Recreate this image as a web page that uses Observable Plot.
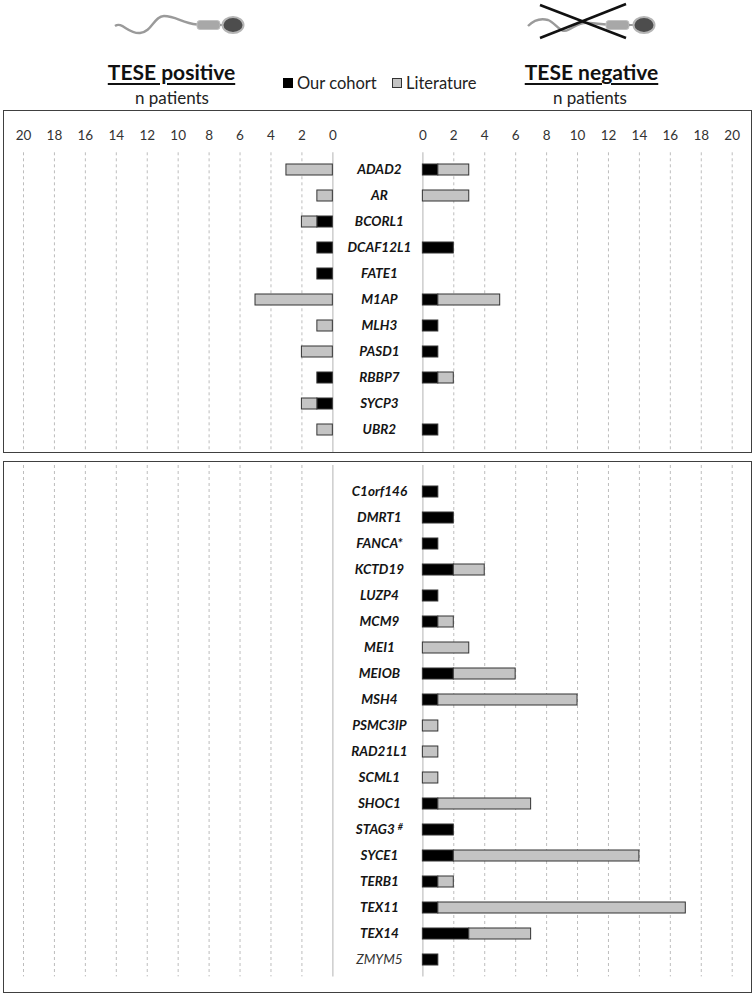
<!DOCTYPE html>
<html><head><meta charset="utf-8">
<script src="https://cdn.jsdelivr.net/npm/d3@7"></script>
<script src="https://cdn.jsdelivr.net/npm/@observablehq/plot@0.6"></script>
<style>
body{margin:0;background:#fff;font-family:Lato,"Open Sans",sans-serif;}
#page{position:relative;width:755px;height:995px;overflow:hidden;background:#fff;}
.abs{position:absolute;}
.title{font-weight:700;font-size:21px;line-height:21px;text-decoration:underline;text-decoration-thickness:2px;text-underline-offset:3px;transform:translateX(-50%);white-space:nowrap;color:#111;}
.sub{font-size:17px;line-height:17px;transform:translateX(-50%);white-space:nowrap;color:#222;}
.leg{font-size:16.5px;line-height:17px;white-space:nowrap;color:#222;display:flex;align-items:center;}
.sw{display:inline-block;width:10px;height:10px;box-sizing:border-box;margin-right:4px;}
.box{border:1.5px solid #404040;box-sizing:border-box;pointer-events:none;}
svg.plot{position:absolute;left:0;}
</style></head><body><div id="page">
<svg class="abs" style="left:0;top:0" width="755" height="60">
  <!-- left sperm -->
  <path d="M115,26 C122,21 128,34 140,33 C152,32 154,16 164,16 C176,16 182,23 197,24.5" fill="none" stroke="#9a9a9a" stroke-width="2.4"/>
  <rect x="197" y="20.5" width="23" height="9" rx="3" fill="#a8a8a8" stroke="#c2c2c2" stroke-width="1"/>
  <line x1="220" y1="25" x2="224" y2="25" stroke="#9a9a9a" stroke-width="2"/>
  <ellipse cx="233" cy="25" rx="10.5" ry="8" fill="#4d4d4d" stroke="#b5b5b5" stroke-width="2"/>
  <!-- right sperm -->
  <path d="M528,26 C534,20 541,18 548,20 C556,23 560,34 568,30 C576,26 580,22 590,23 L606,24.5" fill="none" stroke="#9a9a9a" stroke-width="2.4"/>
  <rect x="606" y="20.5" width="23" height="9" rx="3" fill="#a8a8a8" stroke="#c2c2c2" stroke-width="1"/>
  <line x1="629" y1="25" x2="634" y2="25" stroke="#9a9a9a" stroke-width="2"/>
  <ellipse cx="644" cy="25" rx="10.5" ry="8" fill="#4d4d4d" stroke="#b5b5b5" stroke-width="2"/>
  <line x1="540" y1="5" x2="626" y2="38" stroke="#111" stroke-width="2.5"/>
  <line x1="626" y1="4" x2="540" y2="38" stroke="#111" stroke-width="2.5"/>
</svg>
<div class="abs title" style="left:171.5px;top:61px">TESE positive</div>
<div class="abs sub" style="left:172px;top:88.5px">n patients</div>
<div class="abs title" style="left:591.5px;top:61px">TESE negative</div>
<div class="abs sub" style="left:590px;top:88.5px">n patients</div>
<div class="abs leg" style="left:283px;top:74.5px"><span class="sw" style="background:#000"></span>Our cohort</div>
<div class="abs leg" style="left:392px;top:74.5px"><span class="sw" style="background:#c4c4c4;border:1px solid #333"></span>Literature</div>
<div id="top" class="abs" style="left:0;top:111px;width:755px;height:341px"></div>
<div id="bottom" class="abs" style="left:0;top:462px;width:755px;height:530px"></div>
<div class="abs box" style="left:3px;top:110px;width:749px;height:343px"></div>
<div class="abs box" style="left:3px;top:461px;width:749px;height:532px"></div>
</div>
<script>
// ---- data ----
const sources = ["Our cohort", "Literature"];
const tickValues = [0, 2, 4, 6, 8, 10, 12, 14, 16, 18, 20];

const topGenes = ["ADAD2", "AR", "BCORL1", "DCAF12L1", "FATE1", "M1AP", "MLH3", "PASD1", "RBBP7", "SYCP3", "UBR2"];
const topPositiveCohort     = [0, 0, 1, 1, 1, 0, 0, 0, 1, 1, 0];
const topPositiveLiterature = [3, 1, 1, 0, 0, 5, 1, 2, 0, 1, 1];
const topNegativeCohort     = [1, 0, 0, 2, 0, 1, 1, 1, 1, 0, 1];
const topNegativeLiterature = [2, 3, 0, 0, 0, 4, 0, 0, 1, 0, 0];

const bottomGenes = ["C1orf146", "DMRT1", "FANCA*", "KCTD19", "LUZP4", "MCM9", "MEI1", "MEIOB", "MSH4", "PSMC3IP",
  "RAD21L1", "SCML1", "SHOC1", "STAG3 #", "SYCE1", "TERB1", "TEX11", "TEX14", "ZMYM5"];
const bottomNegativeCohort     = [1, 2, 1, 2, 1, 1, 0, 2, 1, 0, 0, 0, 1, 2, 2, 1, 1, 3, 1];
const bottomNegativeLiterature = [0, 0, 0, 2, 0, 1, 3, 4, 9, 1, 1, 1, 6, 0, 12, 1, 16, 4, 0];

const plainGenes = ["ZMYM5"];

// ---- layout helpers ----
const GAP = 5.82; // units of empty space between the two zero lines (gene label column)
const xOf = (side, v) => side === "pos" ? -GAP - v : v;

function segments(genes, cohort, literature, side) {
  const out = [];
  genes.forEach((g, i) => {
    const c = cohort[i], l = literature[i];
    if (c > 0) out.push({gene: g, side, src: sources[0], a: 0, b: c});
    if (l > 0) out.push({gene: g, side, src: sources[1], a: c, b: c + l});
  });
  return out;
}

const topRows = segments(topGenes, topPositiveCohort, topPositiveLiterature, "pos")
  .concat(segments(topGenes, topNegativeCohort, topNegativeLiterature, "neg"));
const bottomRows = segments(bottomGenes, bottomNegativeCohort, bottomNegativeLiterature, "neg");

const gridX = tickValues.filter(v => v > 0).flatMap(v => [xOf("pos", v), xOf("neg", v)]);
const zeroX = [xOf("pos", 0), xOf("neg", 0)];

function panel(genes, rows, o) {
  const labelX = -GAP / 2 + 0.1;
  const marks = [
    Plot.ruleX(gridX, {stroke: "#bdbdbd", strokeWidth: 1, strokeDasharray: "3,3", insetTop: o.gt, insetBottom: o.gb}),
    Plot.ruleX(zeroX, {stroke: "#d0d0d0", strokeWidth: 1.6, insetTop: o.gt, insetBottom: o.gb}),
    Plot.barX(rows, {
      x1: d => xOf(d.side, d.a), x2: d => xOf(d.side, d.b), y: "gene",
      fill: "src", stroke: "#333", strokeWidth: 1
    }),
    Plot.text(genes.filter(g => !plainGenes.includes(g)), {
      x: labelX, y: d => d, text: d => d, fontWeight: "bold", fontStyle: "italic",
      fontSize: 13.5, fill: "#151515"
    }),
    Plot.text(genes.filter(g => plainGenes.includes(g)), {
      x: labelX, y: d => d, text: d => d, fontStyle: "italic", fontSize: 13.5, fill: "#333"
    })
  ];
  if (o.axis) {
    marks.push(
      Plot.axisX(tickValues.map(v => xOf("pos", v)), {anchor: "top", tickSize: 0, tickPadding: 12.5,
        tickFormat: d => String(Math.round(-d - GAP)), fontSize: 13.5, fill: "#333"}),
      Plot.axisX(tickValues.map(v => xOf("neg", v)), {anchor: "top", tickSize: 0, tickPadding: 12.5,
        tickFormat: d => String(Math.round(d)), fontSize: 13.5, fill: "#333"})
    );
  }
  return Plot.plot({
    width: 755, height: o.height,
    marginLeft: 23, marginRight: 23.3, marginTop: o.mt, marginBottom: o.mb,
    x: Object.assign({domain: [-GAP - 20, 20]}, o.axis ? {} : {axis: null}),
    y: {type: "band", domain: genes, paddingInner: 0.59, paddingOuter: 0.295, axis: null},
    color: {domain: sources, range: ["#000000", "#c4c4c4"]},
    style: {fontFamily: "Lato, 'Open Sans', sans-serif", background: "transparent", overflow: "visible"},
    marks
  });
}

const topPlot = panel(topGenes, topRows, {height: 341, mt: 41.3, mb: 5.6, gt: 0, gb: -5.6, axis: true});
const bottomPlot = panel(bottomGenes, bottomRows, {height: 530, mt: 8.6, mb: 11.6, gt: -5.6, gb: 4, axis: false});
document.getElementById("top").appendChild(topPlot);
document.getElementById("bottom").appendChild(bottomPlot);

// superscript mark on STAG3
d3.select(bottomPlot).selectAll("text").filter(function () { return this.textContent === "STAG3 #"; })
  .each(function () {
    const t = d3.select(this);
    t.text("STAG3 ");
    t.append("tspan").attr("dy", "-0.45em").attr("font-size", "9").text("#");
  });
</script>
</body></html>
